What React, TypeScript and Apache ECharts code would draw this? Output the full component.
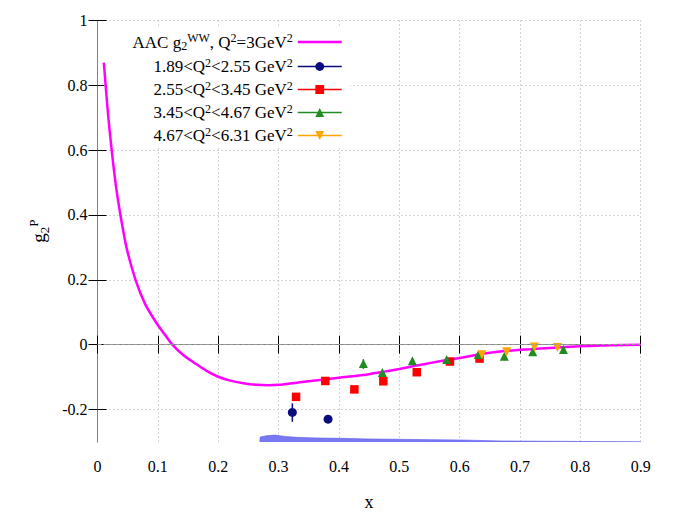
import React, { useEffect, useRef } from "react";
import * as echarts from "echarts";

// AAC g2^WW curve at Q^2 = 3 GeV^2
const curveX = [0.0105, 0.0135, 0.018, 0.0235, 0.0305, 0.038, 0.048, 0.063, 0.079, 0.098, 0.11, 0.124, 0.142, 0.162, 0.18, 0.2, 0.22, 0.244, 0.265, 0.283, 0.3, 0.327, 0.35, 0.4, 0.45, 0.473, 0.5, 0.529, 0.55, 0.584, 0.6, 0.639, 0.667, 0.7, 0.717, 0.75, 0.8, 0.85, 0.9];
const curveY = [0.87, 0.8, 0.7, 0.6, 0.49, 0.4, 0.3, 0.2, 0.125, 0.066, 0.035, 0.0, -0.032, -0.058, -0.08, -0.099, -0.111, -0.12, -0.124, -0.125, -0.124, -0.118, -0.113, -0.102, -0.091, -0.084, -0.075, -0.064, -0.057, -0.046, -0.041, -0.028, -0.021, -0.016, -0.014, -0.01, -0.005, -0.002, 0.0];

// Data sets
const s1X = [0.3228, 0.382];
const s1Y = [-0.209, -0.23];
const s2X = [0.329, 0.3775, 0.4256, 0.4736, 0.529, 0.584, 0.633];
const s2Y = [-0.161, -0.112, -0.138, -0.113, -0.085, -0.052, -0.043];
const s3X = [0.4405, 0.472, 0.5217, 0.5786, 0.631, 0.674, 0.721, 0.772];
const s3Y = [-0.058, -0.086, -0.05, -0.046, -0.03, -0.0355, -0.022, -0.015];
const s4X = [0.637, 0.678, 0.7238, 0.762];
const s4Y = [-0.031, -0.022, -0.007, -0.009];

// Error bars
const err1X = [0.3228];
const err1Lo = [-0.238];
const err1Hi = [-0.181];
const err3X = [0.4405];
const err3Lo = [-0.075];
const err3Hi = [-0.045];

// Uncertainty band at bottom
const bandX = [0.269, 0.2695, 0.28, 0.294, 0.31, 0.33, 0.363, 0.402, 0.45, 0.5, 0.55, 0.6, 0.667, 0.75, 0.83, 0.9];
const bandY = [-0.3, -0.285, -0.281, -0.279, -0.283, -0.286, -0.288, -0.289, -0.291, -0.292, -0.293, -0.294, -0.297, -0.298, -0.299, -0.2995];

const xTicks = [0, 0.1, 0.2, 0.3, 0.4, 0.5, 0.6, 0.7, 0.8, 0.9];
const yTicks = [-0.2, 0, 0.2, 0.4, 0.6, 0.8, 1];

const seriesNames = ["aac", "s1", "s2", "s3", "s4"];
const legendLabels = [
  "{t|AAC g}{sub|2}{sup|WW}{t|, Q}{sup|2}{t|=3GeV}{sup|2}",
  "{t|1.89<Q}{sup|2}{t|<2.55 GeV}{sup|2}",
  "{t|2.55<Q}{sup|2}{t|<3.45 GeV}{sup|2}",
  "{t|3.45<Q}{sup|2}{t|<4.67 GeV}{sup|2}",
  "{t|4.67<Q}{sup|2}{t|<6.31 GeV}{sup|2}",
];

const FONT = "'Liberation Serif', 'DejaVu Serif', serif";
const FS = 16;

const rich = {
  t: { fontFamily: FONT, fontSize: 17, lineHeight: 20, color: "#000" },
  sup: { fontFamily: FONT, fontSize: 12, lineHeight: 12, verticalAlign: "top", color: "#000" },
  sub: { fontFamily: FONT, fontSize: 12, lineHeight: 12, verticalAlign: "bottom", color: "#000" },
};

const nameRich = {
  t: { fontFamily: FONT, fontSize: 19, lineHeight: 24, color: "#000" },
  sup: { fontFamily: FONT, fontSize: 13, lineHeight: 14, verticalAlign: "top", color: "#000" },
  sub: { fontFamily: FONT, fontSize: 13, lineHeight: 14, verticalAlign: "bottom", color: "#000" },
};

const zip = (xs: number[], ys: number[]) => xs.map((x, i) => [x, ys[i]]);

const errSeries = (xs: number[], lo: number[], hi: number[], color: string) => ({
  type: "custom",
  silent: true,
  z: 3,
  data: xs.map((x, i) => [x, lo[i], hi[i]]),
  encode: { x: 0, y: [1, 2] },
  renderItem: (_p: any, api: any) => {
    const a = api.coord([api.value(0), api.value(1)]);
    const b = api.coord([api.value(0), api.value(2)]);
    return {
      type: "line",
      shape: { x1: a[0], y1: a[1], x2: b[0], y2: b[1] },
      style: { stroke: color, lineWidth: 1.5 },
    };
  },
});

export default function App() {
  const ref = useRef<HTMLDivElement>(null);
  useEffect(() => {
    document.body.style.margin = "0";
    if (!ref.current) return;
    const chart = echarts.init(ref.current, null, { renderer: "svg" });
    const axisLine = { show: true, lineStyle: { color: "#808080", width: 1 } };
    const tick = { show: true, inside: true, length: 9, lineStyle: { color: "#000", width: 1 } };
    const grid = { show: true, lineStyle: { color: "#a8a8a8", width: 1, type: [1, 3] } };
    const label = { color: "#000", fontFamily: FONT, fontSize: FS };
    const option: any = {
      animation: false,
      backgroundColor: "#fff",
      grid: { left: 97.5, right: 51.3, top: 20.5, bottom: 77.1, outerBoundsMode: "none" },
      xAxis: [
        {
          type: "value", min: 0, max: 0.9, interval: 0.1, position: "bottom",
          axisLine, axisTick: { ...tick, customValues: xTicks },
          axisLabel: { ...label, margin: 17, customValues: xTicks },
          splitLine: grid,
          name: "x", nameLocation: "middle", nameGap: 51,
          nameTextStyle: { ...label, fontSize: 18 },
        },
        {
          type: "value", min: 0, max: 0.9, interval: 0.1, position: "top",
          axisLine, axisTick: { ...tick, customValues: xTicks },
          axisLabel: { show: false }, splitLine: { show: false },
        },
      ],
      yAxis: [
        {
          type: "value", min: -0.3, max: 1, position: "left",
          axisLine, axisTick: { ...tick, customValues: yTicks },
          axisLabel: { ...label, margin: 10, customValues: yTicks },
          splitLine: grid,
          name: "{t|g}{sub|2}{sup|P}", nameLocation: "middle", nameRotate: 90, nameGap: 47,
          nameTextStyle: { ...label, rich: nameRich },
        },
        {
          type: "value", min: -0.3, max: 1, position: "right",
          axisLine, axisTick: { ...tick, customValues: yTicks },
          axisLabel: { show: false }, splitLine: { show: false },
        },
      ],
      legend: {
        orient: "vertical", align: "right", right: 342, top: 26,
        itemWidth: 44, itemHeight: 11, itemGap: 4.5,
        backgroundColor: "#fff", padding: [6, 7, 4, 28], z: 1,
        selectedMode: false,
        data: [
          { name: "aac", lineStyle: { width: 2.5, opacity: 1 }, itemStyle: { opacity: 0 } },
          { name: "s1", lineStyle: { width: 1.5, opacity: 1 } },
          { name: "s2", lineStyle: { width: 1.5, opacity: 1 } },
          { name: "s3", lineStyle: { width: 1.5, opacity: 1 } },
          { name: "s4", lineStyle: { width: 1.5, opacity: 1 } },
        ],
        formatter: (name: string) => legendLabels[seriesNames.indexOf(name)],
        textStyle: { ...label, rich },
      },
      series: [
        {
          type: "line", name: "band", data: zip(bandX, bandY), symbol: "none", silent: true,
          lineStyle: { color: "#5a5ae8", width: 0.6 },
          areaStyle: { color: "#7878f2", opacity: 1, origin: "start" },
          z: 1,
        },
        {
          type: "line", name: "aac", data: zip(curveX, curveY), symbol: "none",
          smooth: 0.25,
          lineStyle: { color: "#ff00ff", width: 2.5 }, itemStyle: { color: "#ff00ff" },
          markLine: {
            silent: true, symbol: ["none", "none"], label: { show: false },
            lineStyle: { color: "#9a9a9a", width: 1, type: [4, 2] },
            data: [{ yAxis: 0 }],
          },
          z: 2,
        },
        errSeries(err1X, err1Lo, err1Hi, "#0b0b80"),
        errSeries(err3X, err3Lo, err3Hi, "#228b22"),
        {
          type: "line", name: "s1", data: zip(s1X, s1Y), symbol: "circle", symbolSize: 9,
          itemStyle: { color: "#0b0b80" }, lineStyle: { color: "#0b0b80", width: 1.5, opacity: 0 }, z: 4,
        },
        {
          type: "line", name: "s2", data: zip(s2X, s2Y), symbol: "rect", symbolSize: 8.5,
          itemStyle: { color: "#ff0000" }, lineStyle: { color: "#ff0000", width: 1.5, opacity: 0 }, z: 4,
        },
        {
          type: "line", name: "s3", data: zip(s3X, s3Y), symbol: "triangle", symbolSize: 9,
          itemStyle: { color: "#228b22" }, lineStyle: { color: "#228b22", width: 1.5, opacity: 0 }, z: 4,
        },
        {
          type: "line", name: "s4", data: zip(s4X, s4Y), symbol: "triangle", symbolRotate: 180, symbolSize: 9,
          itemStyle: { color: "#ffa500" }, lineStyle: { color: "#ffa500", width: 1.5, opacity: 0 }, z: 4,
        },
      ],
    };
    chart.setOption(option);
    return () => chart.dispose();
  }, []);
  return <div ref={ref} style={{ width: 692, height: 519 }} />;
}
